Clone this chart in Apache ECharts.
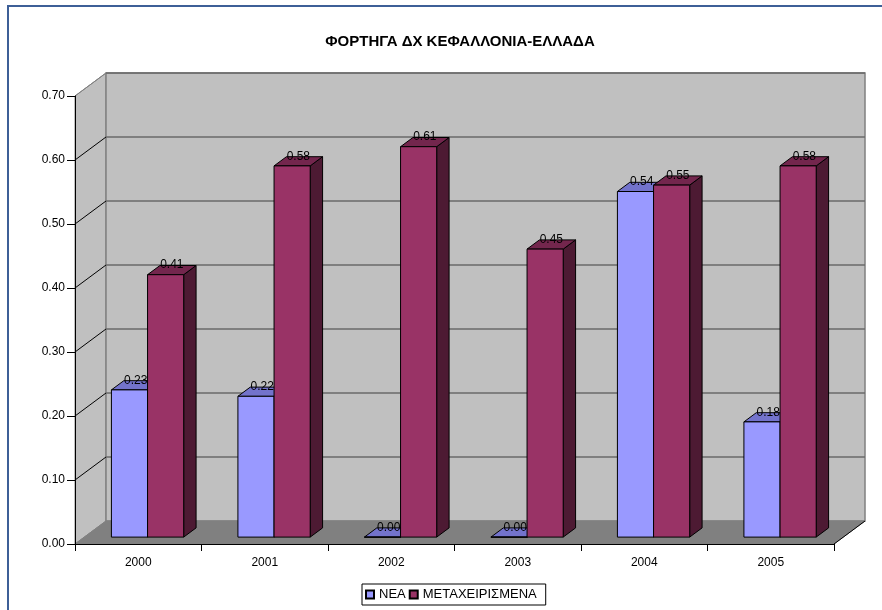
<!DOCTYPE html>
<html>
<head>
<meta charset="utf-8">
<script src="https://cdn.jsdelivr.net/npm/echarts@6/dist/echarts.min.js"></script>
<style>
  html, body { margin: 0; padding: 0; background: #fff; }
  #chart { width: 882px; height: 610px; }
</style>
</head>
<body>
<div id="chart"></div>
<script>
// Data
const categories = ['2000', '2001', '2002', '2003', '2004', '2005'];
const newValues  = [0.23, 0.22, 0.00, 0.00, 0.54, 0.18];
const usedValues = [0.41, 0.58, 0.61, 0.45, 0.55, 0.58];
const seriesNames = ['ΝΕΑ', 'ΜΕΤΑΧΕΙΡΙΣΜΕΝΑ'];
const yMin = 0, yMax = 0.7, yStep = 0.1;

// 3D look: depth offset of the back wall, and where bars sit inside that depth
const DX = 31, DY = -23;
const BAR_FRONT = 0.3, BAR_BACK = 0.7;
const GAP_RATIO = 1.5; // gap between clusters, as multiple of one bar width

const FONT = 'Arial, "Liberation Sans", sans-serif';

const faceColors = [
  { front: '#9999FF', top: '#7373CC', side: '#5C5CA3' },
  { front: '#993366', top: '#73264D', side: '#4D1A33' }
];

const chart = echarts.init(document.getElementById('chart'), null, { renderer: 'canvas' });

function wallsRender(params, api) {
  const cs = params.coordSys;
  const x0 = cs.x, x1 = cs.x + cs.width;
  const yb = api.coord([0, yMin])[1];
  const yt = api.coord([0, yMax])[1];
  const children = [];
  // left wall
  children.push({
    type: 'polygon',
    shape: { points: [[x0, yb], [x0, yt], [x0 + DX, yt + DY], [x0 + DX, yb + DY]] },
    style: { fill: '#C0C0C0', stroke: '#808080', lineWidth: 1 }
  });
  // back wall
  children.push({
    type: 'rect',
    shape: { x: x0 + DX, y: yt + DY, width: x1 - x0, height: yb - yt },
    style: { fill: '#C0C0C0', stroke: '#808080', lineWidth: 1.5 }
  });
  // floor
  children.push({
    type: 'polygon',
    shape: { points: [[x0, yb], [x1, yb], [x1 + DX, yb + DY], [x0 + DX, yb + DY]] },
    style: { fill: '#808080', stroke: '#808080', lineWidth: 1 }
  });
  children.push({
    type: 'line',
    shape: { x1: x1, y1: yb, x2: x1 + DX, y2: yb + DY },
    style: { stroke: '#000', lineWidth: 1 }
  });
  // grid lines on walls
  for (let t = yMin + yStep; t <= yMax + 1e-9; t += yStep) {
    const y = api.coord([0, t])[1];
    children.push({
      type: 'line',
      shape: { x1: x0, y1: y, x2: x0 + DX, y2: y + DY },
      style: { stroke: Math.abs(t - yMax) < 1e-9 ? '#808080' : '#000', lineWidth: 1 }
    });
    children.push({
      type: 'line',
      shape: { x1: x0 + DX, y1: y + DY, x2: x1 + DX, y2: y + DY },
      style: { stroke: '#6A6A6A', lineWidth: 1.6 }
    });
  }
  return { type: 'group', children: children };
}

function barGeometry(api, sIdx) {
  const i = api.value(0), v = api.value(1);
  const band = api.size([1, 0])[0];
  const barW = band / (2 + GAP_RATIO);
  const base = api.coord([i, 0]);
  const top = api.coord([i, v]);
  const fx = DX * BAR_FRONT, fy = DY * BAR_FRONT;
  const ddx = DX * (BAR_BACK - BAR_FRONT), ddy = DY * (BAR_BACK - BAR_FRONT);
  const left = base[0] - barW + sIdx * barW + fx;
  return { left: left, right: left + barW, yb: base[1] + fy, yt: top[1] + fy, ddx: ddx, ddy: ddy, w: barW, v: v };
}

function makeBarRender(sIdx) {
  const col = faceColors[sIdx];
  return function (params, api) {
    const g = barGeometry(api, sIdx);
    const stroke = { stroke: '#000', lineWidth: 1 };
    return {
      type: 'group',
      children: [
        {
          type: 'polygon',
          shape: { points: [[g.right, g.yb], [g.right, g.yt], [g.right + g.ddx, g.yt + g.ddy], [g.right + g.ddx, g.yb + g.ddy]] },
          style: Object.assign({ fill: col.side }, stroke)
        },
        {
          type: 'polygon',
          shape: { points: [[g.left, g.yt], [g.right, g.yt], [g.right + g.ddx, g.yt + g.ddy], [g.left + g.ddx, g.yt + g.ddy]] },
          style: Object.assign({ fill: col.top }, stroke)
        },
        {
          type: 'rect',
          shape: { x: g.left, y: g.yt, width: g.w, height: g.yb - g.yt },
          style: Object.assign({ fill: col.front }, stroke)
        }
      ]
    };
  };
}

function makeLabelRender(sIdx) {
  return function (params, api) {
    const g = barGeometry(api, sIdx);
    return {
      type: 'text',
      style: {
        x: g.left + g.w / 2 + g.ddx / 2,
        y: g.yt + g.ddy / 2 - 5,
        text: g.v.toFixed(2),
        textAlign: 'center',
        textVerticalAlign: 'middle',
        fill: '#000',
        font: '12px ' + FONT
      }
    };
  };
}

const toData = arr => arr.map((v, i) => [i, v]);

chart.setOption({
  animation: false,
  backgroundColor: '#fff',
  title: {
    text: 'ΦΟΡΤΗΓΑ ΔΧ ΚΕΦΑΛΛΟΝΙΑ-ΕΛΛΑΔΑ',
    left: 455,
    textAlign: 'center',
    top: 29,
    textStyle: { fontFamily: FONT, fontSize: 15, fontWeight: 'bold', color: '#000' }
  },
  graphic: [
    {
      type: 'rect',
      shape: { x: 8, y: 6, width: 1000, height: 1000 },
      style: { fill: 'none', stroke: '#3D5F97', lineWidth: 2 },
      silent: true
    }
  ],
  legend: {
    data: seriesNames,
    left: 362,
    top: 584,
    orient: 'horizontal',
    icon: 'rect',
    itemWidth: 8,
    itemHeight: 8,
    itemGap: 3,
    padding: [4, 9, 4, 3],
    borderColor: '#000',
    borderWidth: 1,
    borderRadius: 0,
    textStyle: { fontFamily: FONT, fontSize: 13, color: '#000' }
  },
  grid: { left: 75, right: 48, top: 96, bottom: 66, containLabel: false },
  xAxis: {
    type: 'category',
    data: categories,
    z: 10,
    axisLine: { lineStyle: { color: '#000', width: 1 } },
    axisTick: { show: true, length: 7, lineStyle: { color: '#000' } },
    axisLabel: { color: '#000', fontFamily: FONT, fontSize: 12, margin: 13 },
    splitLine: { show: false }
  },
  yAxis: {
    type: 'value',
    min: yMin,
    max: yMax,
    interval: yStep,
    z: 10,
    axisLine: { show: true, lineStyle: { color: '#000', width: 1 } },
    axisTick: { show: true, length: 8, lineStyle: { color: '#000' } },
    axisLabel: { color: '#000', fontFamily: FONT, fontSize: 12, margin: 10, formatter: v => v.toFixed(2) },
    splitLine: { show: false }
  },
  series: [
    {
      type: 'custom',
      name: 'walls',
      z: 1,
      silent: true,
      renderItem: wallsRender,
      data: [[0, 0]]
    },
    {
      type: 'custom',
      name: seriesNames[0],
      z: 2,
      itemStyle: { color: faceColors[0].front, borderColor: '#000', borderWidth: 1 },
      renderItem: makeBarRender(0),
      data: toData(newValues)
    },
    {
      type: 'custom',
      name: seriesNames[1],
      z: 3,
      itemStyle: { color: faceColors[1].front, borderColor: '#000', borderWidth: 1 },
      renderItem: makeBarRender(1),
      data: toData(usedValues)
    },
    {
      type: 'custom',
      name: 'labels-new',
      z: 5,
      silent: true,
      renderItem: makeLabelRender(0),
      data: toData(newValues)
    },
    {
      type: 'custom',
      name: 'labels-used',
      z: 5,
      silent: true,
      renderItem: makeLabelRender(1),
      data: toData(usedValues)
    }
  ]
});
</script>
</body>
</html>
